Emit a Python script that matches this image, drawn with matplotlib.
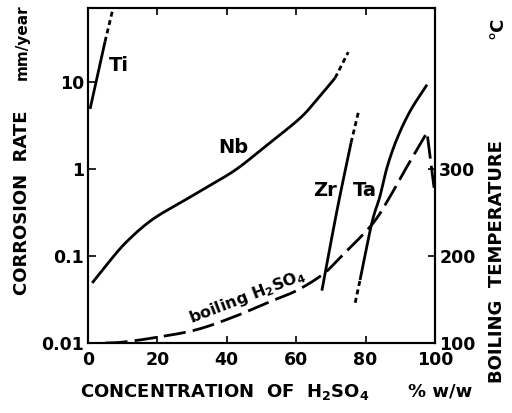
import matplotlib
matplotlib.use("Agg")
import numpy as np
import matplotlib.pyplot as plt
from matplotlib.ticker import FixedLocator, FixedFormatter, NullLocator

plt.rcParams["font.family"] = ["DejaVu Sans"]
plt.rcParams["font.weight"] = "bold"
plt.rcParams["mathtext.fontset"] = "custom"
plt.rcParams["mathtext.rm"] = "DejaVu Sans:bold"
plt.rcParams["mathtext.it"] = "DejaVu Sans:bold"
plt.rcParams["mathtext.bf"] = "DejaVu Sans:bold"

# Corrosion rates (mm/year) vs H2SO4 concentration (% w/w)
ti_x = [0.6, 4.9]
ti_rate = [4.9, 29.0]
ti_ext_x = [4.9, 7.2]
ti_ext_rate = [29.0, 70.0]

nb_x = [1.2, 4.9, 10.7, 18.4, 28.0, 33.7, 42.4, 51.0, 61.0, 66.0, 71.2]
nb_rate = [0.049, 0.075, 0.14, 0.26, 0.44, 0.60, 0.97, 1.8, 3.8, 6.3, 11.1]
nb_ext_x = [71.2, 75.0]
nb_ext_rate = [11.1, 22.0]

zr_x = [67.4, 71.8, 75.8]
zr_rate = [0.040, 0.34, 2.0]
zr_ext_x = [75.8, 78.1]
zr_ext_rate = [2.0, 4.8]

ta_ext_x = [77.0, 78.4]
ta_ext_rate = [0.029, 0.053]
ta_x = [78.4, 81.8, 84.1, 86.2, 89.0, 92.8, 97.7]
ta_rate = [0.053, 0.24, 0.48, 1.05, 2.2, 4.6, 9.3]

# Boiling temperature of H2SO4 (deg C)
bp_x = [5, 10, 19, 31, 42, 51.5, 60, 67.7, 72.6, 81.8, 87, 90.8, 94.8, 97.7, 100]
bp_temp = [100, 101, 106, 115, 130, 146, 160, 179, 198, 236, 268, 295, 322, 342, 270]

x_ticks = [0, 20, 40, 60, 80, 100]
rate_ticks = [0.01, 0.1, 1, 10]
rate_labels = ["0.01", "0.1", "1", "10"]
temp_ticks = [100, 200, 300]

RATE_MIN, RATE_MAX = 0.01, 70.8
TEMP_MIN = 100
TEMP_MAX = TEMP_MIN + 100 * np.log10(RATE_MAX / RATE_MIN)


def smooth(xs, ys, log=False, n=24):
    """Catmull-Rom curve through the given points (in log space if log=True)."""
    x = np.asarray(xs, float)
    y = np.log10(ys) if log else np.asarray(ys, float)
    if len(x) < 3:
        return x, (10 ** y if log else y)
    P = np.column_stack([x, y])
    P = np.vstack([2 * P[0] - P[1], P, 2 * P[-1] - P[-2]])
    out = []
    t = np.linspace(0, 1, n, endpoint=False)[:, None]
    for i in range(1, len(P) - 2):
        p0, p1, p2, p3 = P[i - 1], P[i], P[i + 1], P[i + 2]
        seg = 0.5 * ((2 * p1) + (-p0 + p2) * t + (2 * p0 - 5 * p1 + 4 * p2 - p3) * t ** 2
                     + (-p0 + 3 * p1 - 3 * p2 + p3) * t ** 3)
        out.append(seg)
    out.append(P[-2][None, :])
    out = np.vstack(out)
    return out[:, 0], (10 ** out[:, 1] if log else out[:, 1])


W, H = 512, 413
fig = plt.figure(figsize=(W / 100, H / 100), dpi=100)
ax = fig.add_axes([88 / W, 70 / H, 347 / W, 335 / H])
ax.set_yscale("log")
ax.set_xlim(0, 100)
ax.set_ylim(RATE_MIN, RATE_MAX)

ax2 = ax.twinx()
ax2.set_ylim(TEMP_MIN, TEMP_MAX)

lw = 2.0
solid = dict(color="black", lw=lw, solid_capstyle="butt")
ext = dict(color="black", lw=lw, linestyle=(0, (1.8, 1.3)))

ax.plot(*smooth(ti_x, ti_rate, log=True), **solid)
ax.plot(ti_ext_x, ti_ext_rate, **ext)
ax.plot(*smooth(nb_x, nb_rate, log=True), **solid)
ax.plot(nb_ext_x, nb_ext_rate, **ext)
ax.plot(*smooth(zr_x, zr_rate, log=True), **solid)
ax.plot(zr_ext_x, zr_ext_rate, **ext)
ax.plot(*smooth(ta_x, ta_rate, log=True), **solid)
ax.plot(ta_ext_x, ta_ext_rate, **ext)

# boiling curve: smooth up to the azeotrope peak, then the sharp drop
bx, bt = smooth(bp_x[:-1], bp_temp[:-1])
bx = np.append(bx, bp_x[-1])
bt = np.append(bt, bp_temp[-1])
ax2.plot(bx, bt, color="black", lw=lw, linestyle=(0, (8, 2.6)))

# curve labels
lab = dict(fontsize=14, fontweight="bold", ha="center", va="center")
ax.text(8.8, 15.5, "Ti", **lab)
ax.text(42.0, 1.75, "Nb", **lab)
ax.text(68.3, 0.56, "Zr", **lab)
ax.text(79.8, 0.56, "Ta", **lab)
ax.text(46.0, 0.034, "boiling H$_2$SO$_4$", fontsize=11.5, fontweight="bold",
        ha="center", va="center", rotation=21, rotation_mode="anchor")

# axes styling
for a in (ax, ax2):
    for s in a.spines.values():
        s.set_linewidth(1.5)

ax.xaxis.set_major_locator(FixedLocator(x_ticks))
ax.yaxis.set_major_locator(FixedLocator(rate_ticks))
ax.yaxis.set_major_formatter(FixedFormatter(rate_labels))
ax.yaxis.set_minor_locator(NullLocator())
ax.tick_params(axis="x", direction="in", top=True, length=5, width=1.2,
               labelsize=12.5, pad=6)
ax.tick_params(axis="y", direction="in", length=6, width=1.2,
               labelsize=12.5, pad=3)
ax2.yaxis.set_major_locator(FixedLocator(temp_ticks))
ax2.tick_params(axis="y", direction="in", length=5, width=1.2,
                labelsize=12.5, pad=3)

# axis titles
def ftext(px, py, s, size=13, **kw):
    fig.text(px / W, 1 - py / H, s, fontweight="bold", fontsize=size, **kw)

ftext(22, 203, "CORROSION  RATE", rotation=90, ha="center", va="center")
ftext(22, 42, "mm/year", size=11, rotation=90, ha="center", va="center")
ftext(497, 262, "BOILING  TEMPERATURE", rotation=90, ha="center", va="center")
ftext(497, 28, "°C", rotation=90, ha="center", va="center")
ftext(80, 392, "CONCENTRATION  OF  H$_2$SO$_4$", ha="left", va="center")
ftext(408, 392, "% w/w", ha="left", va="center")

fig.savefig("out.png", dpi=100)
